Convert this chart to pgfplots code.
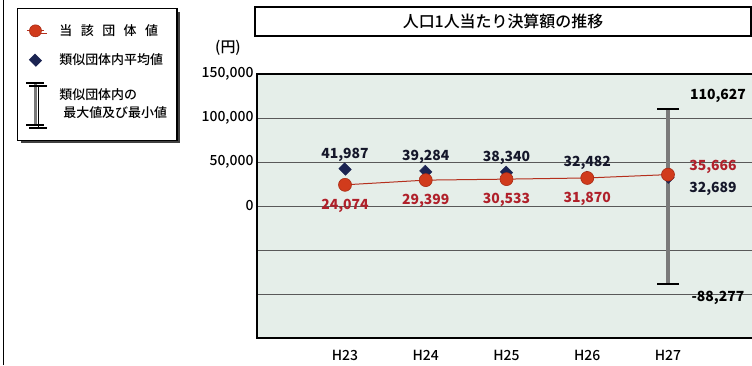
\documentclass[border=0pt]{standalone}
\usepackage{fontspec}
\setmainfont{Noto Sans CJK JP}
\newfontfamily\jpmed{Noto Sans CJK JP Medium}
\usepackage{pgfplots}
\pgfplotsset{compat=1.18}
\usetikzlibrary{shadows}

\definecolor{plotbg}{HTML}{E5EEE9}
\definecolor{ownred}{HTML}{D13B1C}
\definecolor{ownedge}{HTML}{A82A14}
\definecolor{ownline}{HTML}{B5301E}
\definecolor{labred}{HTML}{B0202A}
\definecolor{avgnavy}{HTML}{1B2452}
\definecolor{labnavy}{HTML}{15172A}
\definecolor{rangegray}{HTML}{7A7A7A}

\begin{document}
\begin{tikzpicture}[x=1bp,y=1bp]
\useasboundingbox (0,0) rectangle (752,365);
% outer frame line
\draw[line width=1.3bp] (3.5,0) -- (3.5,365);
% title box and unit
\node[draw, line width=1.2bp, minimum width=496bp, minimum height=29bp, inner sep=0pt,
      font=\jpmed\fontsize{16}{17}\selectfont] at (503,343.5) {人口1人当たり決算額の推移};
\node[font=\jpmed\fontsize{15}{16}\selectfont] at (228,317) {(円)};

\begin{axis}[
  at={(257bp,27bp)}, anchor=south west,
  scale only axis, width=499bp, height=264bp,
  xmin=-1.09, xmax=5.09, ymin=-150000, ymax=150000,
  scaled y ticks=false,
  axis background/.style={fill=plotbg},
  axis line style={line width=2.2bp},
  xtick={0,1,2,3,4}, xticklabels={H23,H24,H25,H26,H27},
  ytick={-100000,-50000,0,50000,100000,150000},
  yticklabels={,,0,{50,000},{100,000},{150,000}},
  tick style={draw=none},
  ymajorgrids, grid style={black!65, line width=0.7bp},
  ticklabel style={font=\jpmed\fontsize{14}{14}\selectfont},
  xticklabel style={yshift=-9bp},
  /pgf/number format/assume math mode=true,
  /pgf/number format/fixed,
  /pgf/number format/precision=0,
  /pgf/number format/1000 sep={,},
  nodes near coords style={font=\bfseries\fontsize{14}{14}\selectfont, anchor=center},
  legend style={
    at={(-0.481,1.25)}, anchor=north west,
    draw=black, line width=1.2bp, fill=white,
    general shadow={fill=black!75, shadow xshift=3bp, shadow yshift=-3bp},
    font=\jpmed\fontsize{13}{18}\selectfont,
    inner xsep=8bp, inner ysep=14bp,
    row sep=13bp, column sep=12bp,
    cells={align=left, anchor=west},
  },
  legend cell align=left,
]
% min/max range of similar municipalities (H27)
\addplot[forget plot, draw=rangegray, line width=3.6bp] coordinates {(4,-88277) (4,110627)};
\addplot[forget plot, only marks, mark=-, mark size=11bp, mark options={draw=black, line width=2.2bp},
  nodes near coords, nodes near coords style={text=black, xshift=50bp, yshift=13bp}]
  coordinates {(4,110627)};
\addplot[forget plot, only marks, mark=-, mark size=11bp, mark options={draw=black, line width=2.2bp},
  nodes near coords, nodes near coords style={text=black, xshift=50bp, yshift=-14bp}]
  coordinates {(4,-88277)};

% average of similar municipalities
\addplot[forget plot, only marks, mark=square*, mark size=4.1bp,
  mark options={rotate=45, yscale=1.15, fill=avgnavy, draw=avgnavy},
  nodes near coords, nodes near coords style={text=labnavy, yshift=14.5bp}]
  coordinates {(0,41987) (1,39284) (2,38340) (3,32482)};
\addplot[forget plot, only marks, mark=square*, mark size=4.1bp,
  mark options={rotate=45, yscale=1.15, fill=avgnavy, draw=avgnavy},
  nodes near coords, nodes near coords style={text=labnavy, xshift=45bp, yshift=-12bp}]
  coordinates {(4,32689)};

% this municipality
\addplot[forget plot, draw=ownline, line width=1bp] coordinates {(0,24074) (1,29399) (2,30533) (3,31870) (4,35666)};
\addplot[forget plot, only marks, mark=*, mark size=6.5bp, mark options={fill=ownred, draw=ownedge, line width=0.6bp},
  nodes near coords, nodes near coords style={text=labred, yshift=-21bp}]
  coordinates {(0,24074) (1,29399) (2,30533) (3,31870)};
\addplot[forget plot, only marks, mark=*, mark size=6.5bp, mark options={fill=ownred, draw=ownedge, line width=0.6bp},
  nodes near coords, nodes near coords style={text=labred, xshift=45bp, yshift=7.5bp}]
  coordinates {(4,35666)};

% legend
\addlegendimage{draw=ownline, line width=1bp, mark=*, mark size=6bp, mark options={fill=ownred, draw=ownedge, line width=0.6bp}}
\addlegendentry{当\hspace{8.5bp}該\hspace{8.5bp}団\hspace{8.5bp}体\hspace{8.5bp}値}
\addlegendimage{only marks, mark=square*, mark size=3.8bp, mark options={rotate=45, yscale=1.15, fill=avgnavy, draw=avgnavy}}
\addlegendentry{類似団体内平均値}
\addlegendimage{legend image code/.code={
  \draw[rangegray, line width=3bp] (0.3cm,-21bp) -- (0.3cm,21bp);
  \draw[black, line width=1.8bp] (0.3cm-9bp,21bp) -- (0.3cm+9bp,21bp);
  \draw[black, line width=1.8bp] (0.3cm-9bp,-21bp) -- (0.3cm+9bp,-21bp);
}}
\addlegendentry{類似団体内の\\\hspace*{4bp}最大値及び最小値}
\end{axis}
\end{tikzpicture}
\end{document}
